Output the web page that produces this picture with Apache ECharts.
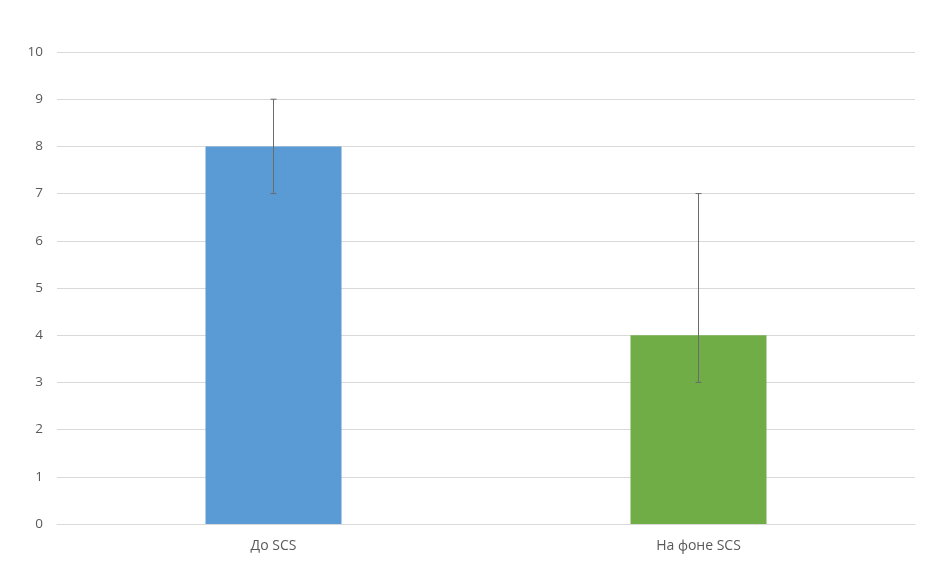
<!DOCTYPE html>
<html><head><meta charset="utf-8">
<script src="https://cdn.jsdelivr.net/npm/echarts@6/dist/echarts.min.js"></script>
<style>html,body{margin:0;padding:0;background:#fff}#c{width:937px;height:587px}</style>
</head><body><div id="c"></div>
<script>
const categories = ['До SCS', 'На фоне SCS'];
const values = [8, 4];
const errLow = [7, 3];
const errHigh = [9, 7];
const barColors = ['#5B9BD5', '#70AD47'];
const yTicks = [0, 10, 1];

const font = 'Open Sans';
const chart = echarts.init(document.getElementById('c'));
chart.setOption({
  animation: false,
  grid: [
    { left: 57, right: 22, top: 52, bottom: 63 },
    { left: 61, right: 26, top: 52, bottom: 63 }
  ],
  xAxis: [
    { type: 'category', gridIndex: 0, data: [''], axisLine: { lineStyle: { color: '#d9d9d9' } },
      axisTick: { show: false }, axisLabel: { show: false } },
    { type: 'category', gridIndex: 1, data: categories,
      axisLine: { show: false }, axisTick: { show: false },
      axisLabel: { color: '#595959', fontSize: 14, fontFamily: font, margin: 15 } }
  ],
  yAxis: [
    { type: 'value', gridIndex: 0, min: yTicks[0], max: yTicks[1], interval: yTicks[2],
      axisLine: { show: false }, axisTick: { show: false },
      splitLine: { lineStyle: { color: '#d9d9d9' } },
      axisLabel: { color: '#595959', fontSize: 13.5, fontFamily: font, margin: 14 } },
    { type: 'value', gridIndex: 1, min: yTicks[0], max: yTicks[1], interval: yTicks[2],
      show: false }
  ],
  series: [
    {
      type: 'bar', barWidth: 136, xAxisIndex: 1, yAxisIndex: 1,
      data: values.map((v, i) => ({ value: v, itemStyle: { color: barColors[i] } }))
    },
    {
      type: 'custom', xAxisIndex: 1, yAxisIndex: 1,
      data: categories.map((c, i) => [i, errLow[i], errHigh[i]]),
      renderItem: function (params, api) {
        const lo = api.coord([api.value(0), api.value(1)]);
        const hi = api.coord([api.value(0), api.value(2)]);
        const w = 3;
        const st = { stroke: '#6b6b6b', lineWidth: 1 };
        return { type: 'group', children: [
          { type: 'line', shape: { x1: hi[0], y1: hi[1], x2: lo[0], y2: lo[1] }, style: st },
          { type: 'line', shape: { x1: hi[0] - w, y1: hi[1], x2: hi[0] + w, y2: hi[1] }, style: st },
          { type: 'line', shape: { x1: lo[0] - w, y1: lo[1], x2: lo[0] + w, y2: lo[1] }, style: st }
        ]};
      },
      z: 10
    }
  ]
});
</script></body></html>
